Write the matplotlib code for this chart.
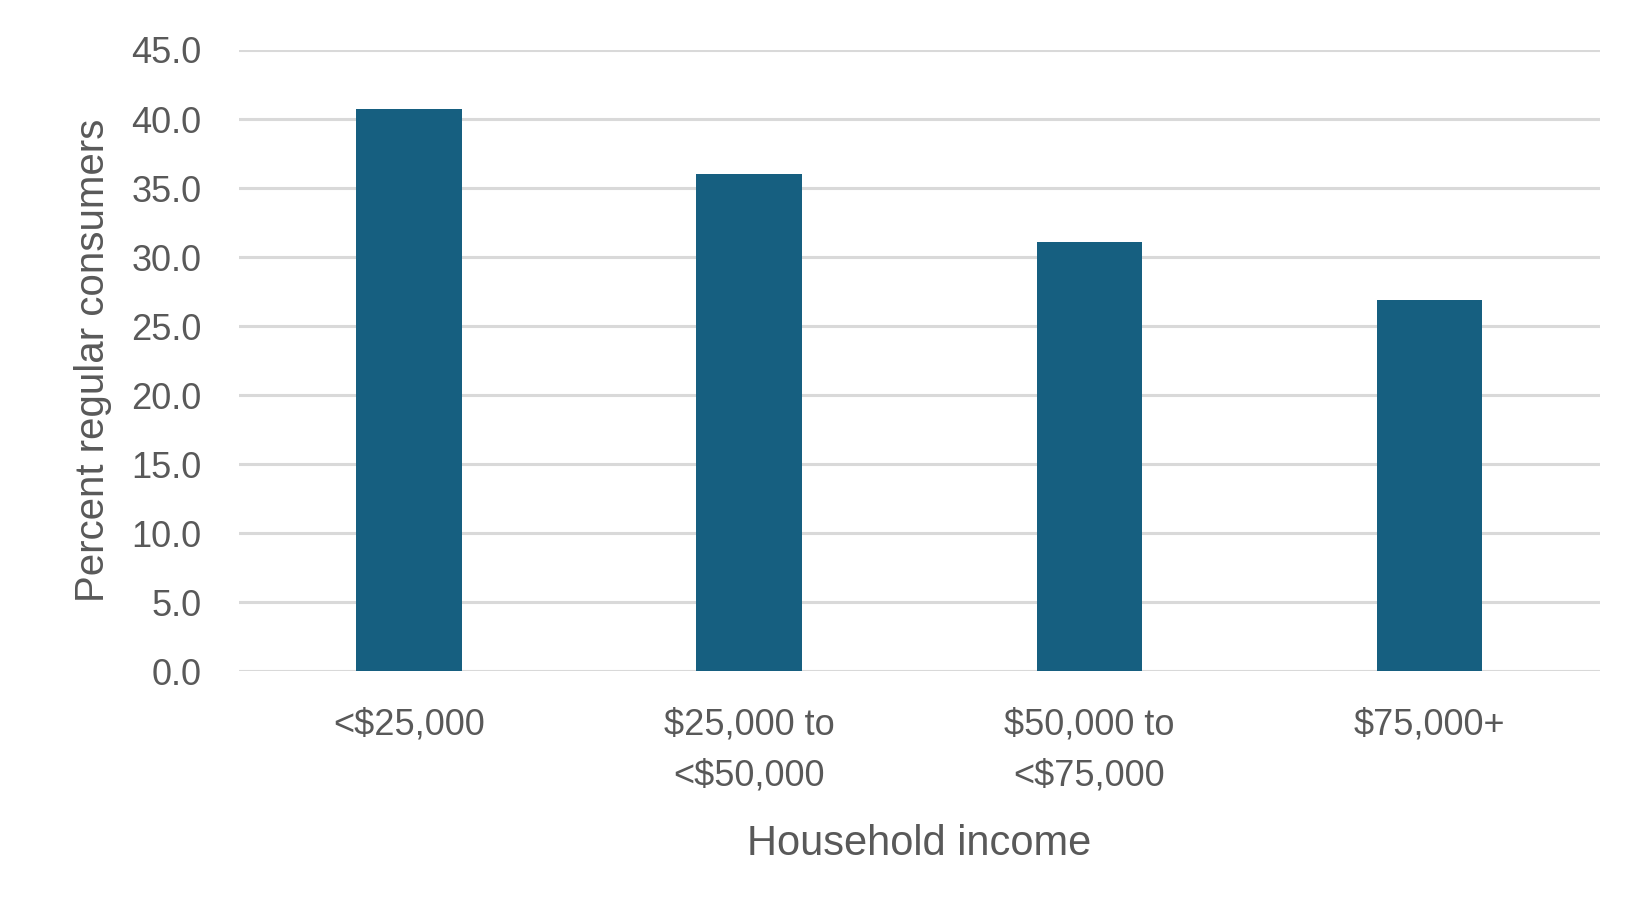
import matplotlib
matplotlib.use("Agg")
import matplotlib.pyplot as plt

categories = ["<$25,000", "$25,000 to\n<$50,000", "$50,000 to\n<$75,000", "$75,000+"]
values = [40.7, 36.0, 31.1, 26.9]
yticks = [0, 5, 10, 15, 20, 25, 30, 35, 40, 45]

plt.rcParams['font.family'] = ['Liberation Sans', 'DejaVu Sans']
txt = '#595959'

fig = plt.figure(figsize=(16.5, 9.24), dpi=100)
ax = fig.add_axes([0.1448, 0.2735, 0.9694 - 0.1448, 0.9459 - 0.2735])

x = list(range(len(categories)))
ax.bar(x, values, width=0.31, color='#165F80', zorder=3)
ax.set_xlim(-0.5, len(categories) - 0.5)
ax.set_ylim(0, 45)
ax.set_yticks(yticks)
ax.set_yticklabels([f"{v:.1f}" for v in yticks])
ax.set_xticks(x)
ax.set_xticklabels(categories, linespacing=1.6)
ax.yaxis.grid(True, color='#D9D9D9', linewidth=2.2, zorder=0)
ax.set_axisbelow(True)
for s in ax.spines.values():
    s.set_visible(False)
ax.tick_params(axis='both', length=0, labelsize=26, labelcolor=txt)
ax.tick_params(axis='y', pad=27)
ax.tick_params(axis='x', pad=26)
ax.set_ylabel("Percent regular consumers", fontsize=29, color=txt, labelpad=14)
ax.set_xlabel("Household income", fontsize=30, color=txt, labelpad=22)

fig.savefig("out.png", dpi=100)
